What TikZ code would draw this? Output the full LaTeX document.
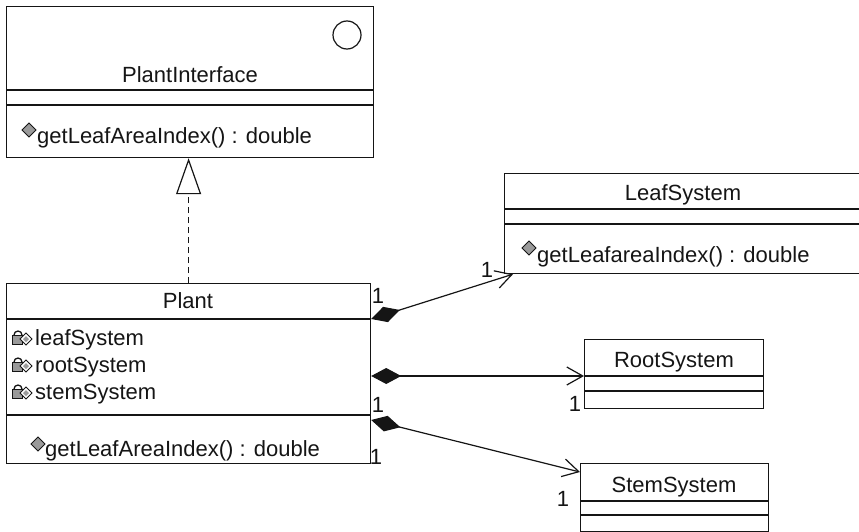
\documentclass[tikz,border=0pt]{standalone}
\usepackage{fontspec}
\setmainfont{Liberation Sans}
\usetikzlibrary{arrows.meta}
\definecolor{umink}{HTML}{151515}
\definecolor{umgray}{HTML}{9A9A9A}
\tikzset{
  uml text/.style={font=\fontsize{22}{26}\selectfont, text=umink},
  uml class/.style={draw=umink, line width=1.2pt, rectangle, anchor=north west,
    inner sep=0pt},
  uml name/.style={uml text, anchor=base, inner sep=0pt},
  uml member/.style={uml text, anchor=base west, inner sep=0pt},
  uml mult/.style={font=\fontsize{22}{26}\selectfont, text=umink, inner sep=0pt},
  uml div/.style={draw=umink, line width=1.2pt},
  uml comp/.style={{Diamond[length=30pt,width=16pt]}-{Straight Barb[length=16pt,width=18pt]},
    line width=1.2pt, draw=umink},
  uml real/.style={-{Triangle[open,length=36pt,width=25pt,fill=white]},
    dash pattern=on 6pt off 4pt, line width=1.2pt, draw=umink},
  op icon/.pic={
    \filldraw[fill=umgray, draw=umink, line width=0.9pt]
      (-7,0) -- (0,7) -- (7,0) -- (0,-7) -- cycle;
  },
  attr icon/.pic={
    \draw[umink, line width=1.3pt] (-9,1) arc[start angle=180, end angle=0, radius=4];
    \filldraw[fill=umgray, draw=umink, line width=0.9pt] (-11,-8) rectangle (-1,1);
    \filldraw[fill=white, draw=umink, line width=0.9pt]
      (-3,-3) -- (3,3) -- (9,-3) -- (3,-9) -- cycle;
    \fill[umgray] (0,-3) -- (3,0) -- (6,-3) -- (3,-6) -- cycle;
  }
}

\begin{document}
\begin{tikzpicture}[x=1pt, y=1pt]
  \useasboundingbox (0,0) rectangle (859,-532);
  % classes
  \node[uml class, minimum width=367pt, minimum height=151pt] (iface) at (6,-6) {};
  \node[uml class, minimum width=364pt, minimum height=180pt] (plant) at (6,-283) {};
  \node[uml class, minimum width=357pt, minimum height=100pt] (leaf) at (504,-173) {};
  \node[uml class, minimum width=179pt, minimum height=69pt] (root) at (584,-339) {};
  \node[uml class, minimum width=188pt, minimum height=68pt] (stem) at (580,-463) {};
  % compartments
  \draw[uml div] ([yshift=-84pt]iface.north west) -- ([yshift=-84pt]iface.north east);
  \draw[uml div] ([yshift=-99pt]iface.north west) -- ([yshift=-99pt]iface.north east);
  \draw[uml div] ([yshift=-36pt]plant.north west) -- ([yshift=-36pt]plant.north east);
  \draw[uml div] ([yshift=-132pt]plant.north west) -- ([yshift=-132pt]plant.north east);
  \draw[uml div] ([yshift=-36pt]leaf.north west) -- ([yshift=-36pt]leaf.north east);
  \draw[uml div] ([yshift=-51pt]leaf.north west) -- ([yshift=-51pt]leaf.north east);
  \draw[uml div] ([yshift=-37pt]root.north west) -- ([yshift=-37pt]root.north east);
  \draw[uml div] ([yshift=-52pt]root.north west) -- ([yshift=-52pt]root.north east);
  \draw[uml div] ([yshift=-38pt]stem.north west) -- ([yshift=-38pt]stem.north east);
  \draw[uml div] ([yshift=-52pt]stem.north west) -- ([yshift=-52pt]stem.north east);
  % interface mark
  \node[draw=umink, line width=1.2pt, circle, minimum size=28pt, inner sep=0pt]
    (ifacemark) at (347,-35) {};
  % names and members
  \node[uml name] (ifacename) at (190,-83) {PlantInterface};
  \pic at (29,-130) {op icon};
  \node[uml member] (ifaceop) at (37,-143) {getLeafAreaIndex() : double};
  \node[uml name] (plantname) at (188,-308) {Plant};
  \pic at (23,-336) {attr icon};
  \node[uml member] (leafattr) at (35,-345) {leafSystem};
  \pic at (23,-363) {attr icon};
  \node[uml member] (rootattr) at (35,-372) {rootSystem};
  \pic at (23,-390) {attr icon};
  \node[uml member] (stemattr) at (35,-399) {stemSystem};
  \pic at (38,-444) {op icon};
  \node[uml member] (plantop) at (45,-456) {getLeafAreaIndex() : double};
  \node[uml name] (leafname) at (683,-200) {LeafSystem};
  \pic at (529,-248) {op icon};
  \node[uml member] (leafop) at (537,-262) {getLeafareaIndex() : double};
  \node[uml name] (rootname) at (674,-367) {RootSystem};
  \node[uml name] (stemname) at (674,-492) {StemSystem};
  % connector ends
  \coordinate (pa) at ([yshift=-36pt]plant.north east);
  \coordinate (pb) at ([yshift=-93pt]plant.north east);
  \coordinate (pc) at ([yshift=-137pt]plant.north east);
  \coordinate (la) at ([xshift=9pt]leaf.south west);
  \coordinate (ra) at ([yshift=-37pt]root.north west);
  \coordinate (sa) at ([yshift=-9pt]stem.north west);
  % relations
  \draw[uml real] (plant.north) -- (plant.north |- iface.south);
  \draw[uml comp] (pa) -- (la);
  \draw[uml comp] (pb) -- (ra);
  \draw[uml comp] (pc) -- (sa);
  % multiplicities
  \node[uml mult] (m1) at (378,-296) {1};
  \node[uml mult] (m2) at (487,-270) {1};
  \node[uml mult] (m3) at (378,-405) {1};
  \node[uml mult] (m4) at (376,-457) {1};
  \node[uml mult] (m5) at (575,-404) {1};
  \node[uml mult] (m6) at (563,-499) {1};
\end{tikzpicture}
\end{document}
